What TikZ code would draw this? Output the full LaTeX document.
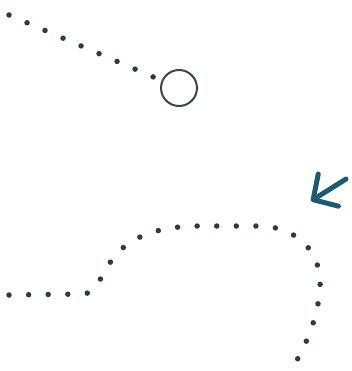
\documentclass[tikz,border=0pt]{standalone}
\usepackage{xcolor}
\usepackage{tikz}
\usetikzlibrary{arrows.meta, positioning, calc}
\definecolor{clrDot}{HTML}{2E3B45}
\definecolor{clrRing}{HTML}{3E454B}
\definecolor{clrArrow}{HTML}{1E5A70}
\tikzset{
  dot trail/.style={clrDot, line width=5.5pt, line cap=round, dash pattern=on 0pt off 19.6pt},
  end ring/.style={circle, draw=clrRing, line width=2pt, minimum size=36pt, inner sep=0pt},
  hint arr/.style={-{Straight Barb[length=18pt, width=38pt, line cap=round, line join=round]}, clrArrow, line width=5pt, line cap=round},
}

\begin{document}
\begin{tikzpicture}[x=1pt, y=-1pt]
  \useasboundingbox (0,0) rectangle (352,371);

  % Upper trail
  \coordinate (topstart) at (9,15);
  \node[end ring] (ring) at (179,88) {};
  \draw[dot trail] (topstart) -- (ring);

  % Lower trail
  \coordinate (low1) at (9,295);
  \coordinate (low2) at (84,294);
  \coordinate (low3) at (124,247);
  \coordinate (low4) at (195,226);
  \coordinate (low5) at (262,226);
  \coordinate (low6) at (320,288);
  \coordinate (low7) at (293,367);
  \draw[dot trail] (low1) -- (low2)
    .. controls (100,292) and (104,262) .. (low3)
    .. controls (140,234) and (162,227) .. (low4)
    -- (low5)
    .. controls (298,228) and (322,252) .. (low6)
    .. controls (318,318) and (306,345) .. (low7);

  % Pointer
  \coordinate (arrtail) at (346,179);
  \coordinate (arrhead) at (311,201);
  \draw[hint arr] (arrtail) -- (arrhead);
\end{tikzpicture}
\end{document}
